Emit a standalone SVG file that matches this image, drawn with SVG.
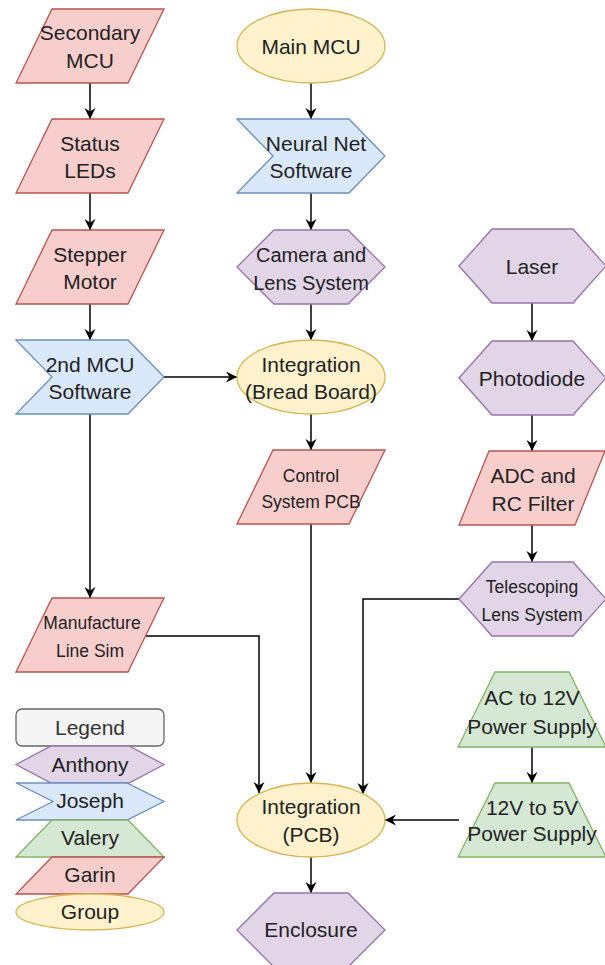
<svg xmlns="http://www.w3.org/2000/svg" width="605" height="965" viewBox="0 0 605 965">
<defs>
<style>
.red{fill:#f8cecc;stroke:#b85450;stroke-width:1.3}
.blue{fill:#dae8fc;stroke:#6c8ebf;stroke-width:1.3}
.pur{fill:#e1d5e7;stroke:#9673a6;stroke-width:1.3}
.grn{fill:#d5e8d4;stroke:#82b366;stroke-width:1.3}
.yel{fill:#fff2cc;stroke:#d6b656;stroke-width:1.3}
.leg{fill:#f5f5f5;stroke:#666666;stroke-width:1.3}
text{font-family:"Liberation Sans",Arial,sans-serif;font-size:21px;fill:#222;text-anchor:middle;dominant-baseline:central}
text.s{font-size:17.5px}
.e{fill:none;stroke:#000;stroke-width:1.5;marker-end:url(#arr)}
</style>
<marker id="arr" markerUnits="userSpaceOnUse" markerWidth="13" markerHeight="12" refX="11" refY="5.5" orient="auto">
<path d="M0,0 L11,5.5 L0,11 L3.5,5.5 Z" fill="#000"/>
</marker>
</defs>
<g id="connectors">
<path class="e" d="M90,83 V119"/>
<path class="e" d="M90,193 V230"/>
<path class="e" d="M90,304 V340"/>
<path class="e" d="M90,414 V598"/>
<path class="e" d="M164,377 H237"/>
<path class="e" d="M311,83 V119"/>
<path class="e" d="M311,193 V230"/>
<path class="e" d="M311,304 V340"/>
<path class="e" d="M311,414 V450"/>
<path class="e" d="M311,524 V783"/>
<path class="e" d="M146,636 H259 V793"/>
<path class="e" d="M459,599 H363 V794"/>
<path class="e" d="M532,303 V341"/>
<path class="e" d="M532,415 V451"/>
<path class="e" d="M532,525 V562"/>
<path class="e" d="M532,747 V783"/>
<path class="e" d="M459,820 H385"/>
<path class="e" d="M311,857 V893"/>
</g>
<g id="secondary-mcu"><polygon class="red" points="52,9 164,9 128,83 16,83"/><text x="90" y="32">Secondary</text><text x="90" y="60">MCU</text></g>
<g id="status-leds"><polygon class="red" points="52,119 164,119 128,193 16,193"/><text x="90" y="143">Status</text><text x="90" y="170">LEDs</text></g>
<g id="stepper-motor"><polygon class="red" points="52,230 164,230 128,304 16,304"/><text x="90" y="254">Stepper</text><text x="90" y="281">Motor</text></g>
<g id="mcu2-software"><polygon class="blue" points="16,340 128,340 164,377 128,414 16,414 52,377"/><text x="90" y="364">2nd MCU</text><text x="90" y="391">Software</text></g>
<g id="manufacture-line-sim"><polygon class="red" points="52,598 164,598 128,672 16,672"/><text class="s" x="92" y="623">Manufacture</text><text class="s" x="90" y="651">Line Sim</text></g>
<g id="main-mcu"><ellipse class="yel" cx="311" cy="46" rx="74" ry="37"/><text x="311" y="46">Main MCU</text></g>
<g id="neural-net-software"><polygon class="blue" points="237,119 349,119 385,156 349,193 237,193 273,156"/><text x="316" y="143">Neural Net</text><text x="311" y="170">Software</text></g>
<g id="camera-lens-system"><polygon class="pur" points="237,267 274,230 348,230 385,267 348,304 274,304"/><text x="311" y="255" style="font-size:20px">Camera and</text><text x="311" y="283" style="font-size:20px">Lens System</text></g>
<g id="integration-breadboard"><ellipse class="yel" cx="311" cy="377" rx="74" ry="37"/><text x="311" y="364">Integration</text><text x="311" y="391">(Bread Board)</text></g>
<g id="control-system-pcb"><polygon class="red" points="273,450 385,450 349,524 237,524"/><text class="s" x="311" y="476">Control</text><text class="s" x="311" y="502">System PCB</text></g>
<g id="integration-pcb"><ellipse class="yel" cx="311" cy="820" rx="74" ry="37"/><text x="311" y="806">Integration</text><text x="311" y="834">(PCB)</text></g>
<g id="enclosure"><polygon class="pur" points="237,930 274,893 348,893 385,930 348,967 274,967"/><text x="311" y="929">Enclosure</text></g>
<g id="laser"><polygon class="pur" points="459,266 492,229 573,229 606,266 573,303 492,303"/><text x="532" y="266">Laser</text></g>
<g id="photodiode"><polygon class="pur" points="459,378 492,341 573,341 606,378 573,415 492,415"/><text x="532" y="378">Photodiode</text></g>
<g id="adc-rc-filter"><polygon class="red" points="489,451 605,451 575,525 459,525"/><text x="533" y="475">ADC and</text><text x="533" y="503">RC Filter</text></g>
<g id="telescoping-lens-system"><polygon class="pur" points="459,599 492,562 573,562 606,599 573,636 492,636"/><text class="s" x="532" y="587">Telescoping</text><text class="s" x="532" y="615">Lens System</text></g>
<g id="ac-12v-supply"><polygon class="grn" points="495,672 569,672 606,747 458,747"/><text x="532" y="697">AC to 12V</text><text x="532" y="726">Power Supply</text></g>
<g id="dc-12v-5v-supply"><polygon class="grn" points="495,783 569,783 606,857 458,857"/><text x="532" y="807">12V to 5V</text><text x="532" y="833">Power Supply</text></g>
<g id="legend">
<rect class="leg" x="16" y="709" width="148" height="37" rx="6"/><text x="90" y="727" style="fill:#333">Legend</text>
<polygon class="pur" points="16,764.5 51,746 129,746 164,764.5 129,783 51,783"/><text x="90" y="764">Anthony</text>
<polygon class="blue" points="16,783 127,783 164,801.5 127,820 16,820 53,801.5"/><text x="90" y="800">Joseph</text>
<polygon class="grn" points="52,820 128,820 164,857 16,857"/><text x="90" y="837">Valery</text>
<polygon class="red" points="52,857 164,857 128,894 16,894"/><text x="90" y="874">Garin</text>
<ellipse class="yel" cx="90" cy="912" rx="74" ry="18"/><text x="90" y="911">Group</text>
</g>
</svg>
